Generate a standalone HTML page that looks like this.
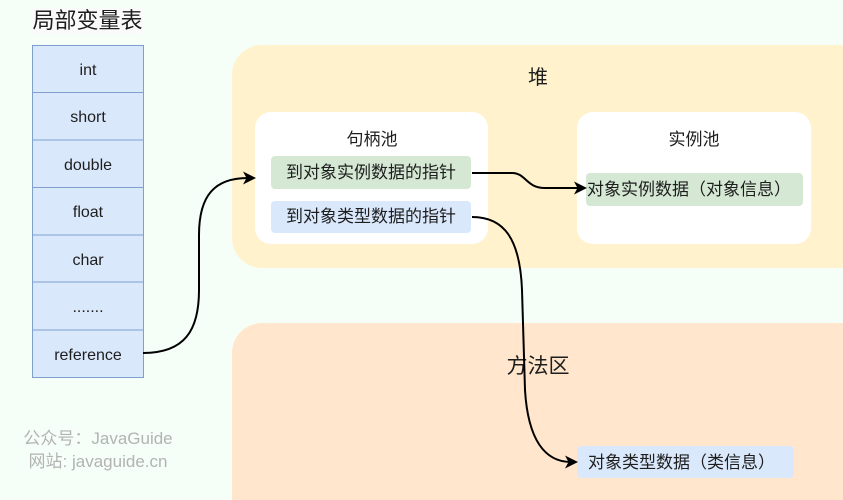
<!DOCTYPE html>
<html>
<head>
<meta charset="utf-8">
<style>
html,body{margin:0;padding:0;background:#f5fff8;width:843px;height:500px;overflow:hidden;}
svg{display:block;}
text{font-family:"Liberation Sans","Noto Sans CJK SC",sans-serif;fill:#1e1e1e;}
</style>
</head>
<body>
<svg width="843" height="500" viewBox="0 0 843 500" xmlns="http://www.w3.org/2000/svg">
  <rect x="0" y="0" width="843" height="500" fill="#f5fff8"/>

  <!-- title -->
  <rect x="31" y="8" width="112" height="26" fill="#f9faf9"/>
  <text x="87.5" y="28" font-size="22" text-anchor="middle">局部变量表</text>

  <!-- table -->
  <g fill="#dae8fc" stroke="#7f9fcf" stroke-width="1">
    <rect x="32.5" y="45.5" width="111" height="47"/>
    <rect x="32.5" y="92.5" width="111" height="47.5"/>
    <rect x="32.5" y="140" width="111" height="47.5"/>
    <rect x="32.5" y="187.5" width="111" height="47.5"/>
    <rect x="32.5" y="235" width="111" height="47"/>
    <rect x="32.5" y="282" width="111" height="48"/>
    <rect x="32.5" y="330" width="111" height="47.5"/>
  </g>
  <g font-size="16" text-anchor="middle">
    <text x="88" y="75">int</text>
    <text x="88" y="122">short</text>
    <text x="88" y="170">double</text>
    <text x="88" y="217">float</text>
    <text x="88" y="265">char</text>
    <text x="88" y="312">.......</text>
    <text x="88" y="360">reference</text>
  </g>

  <!-- watermark -->
  <text x="98" y="444" font-size="17" text-anchor="middle" style="fill:#b3b3b3">公众号：JavaGuide</text>
  <text x="98" y="467" font-size="17" text-anchor="middle" style="fill:#b3b3b3">网站: javaguide.cn</text>

  <!-- heap -->
  <rect x="232" y="45" width="640" height="223" rx="30" ry="30" fill="#fff2cc"/>
  <text x="538" y="84" font-size="20" text-anchor="middle">堆</text>

  <!-- handle pool -->
  <rect x="255" y="112" width="233" height="132" rx="16" ry="16" fill="#ffffff"/>
  <text x="372" y="145" font-size="17" text-anchor="middle">句柄池</text>
  <rect x="271" y="156" width="200" height="33" rx="4" fill="#d5e8d4"/>
  <text x="371" y="178" font-size="17" text-anchor="middle">到对象实例数据的指针</text>
  <rect x="271" y="201" width="200" height="32" rx="4" fill="#dae8fc"/>
  <text x="371" y="222" font-size="17" text-anchor="middle">到对象类型数据的指针</text>

  <!-- instance pool -->
  <rect x="577" y="112" width="234" height="132" rx="16" ry="16" fill="#ffffff"/>
  <text x="694" y="145" font-size="17" text-anchor="middle">实例池</text>
  <rect x="586" y="173" width="217" height="33" rx="4" fill="#d5e8d4"/>
  <text x="587" y="195" font-size="17">对象实例数据（对象信息）</text>

  <!-- method area -->
  <path d="M232,500 L232,353 A30,30 0 0 1 262,323 L843,323 L843,500 Z" fill="#ffe6cc"/>
  <text x="538" y="373" font-size="21" text-anchor="middle">方法区</text>
  <rect x="577" y="446" width="217" height="32" rx="4" fill="#dae8fc"/>
  <text x="588" y="468" font-size="17">对象类型数据（类信息）</text>

  <!-- connectors -->
  <g fill="none" stroke="#000" stroke-width="2">
    <path d="M143,353 C185,353 199,330 199,290 L199,235 C199,195 215,178 248,178"/>
    <path d="M472,173 L512,173 C526,173 526,188 545,188 L580,188"/>
    <path d="M472,217 C505,217 520,240 522,290 L525,390 C528,440 545,462 571,462"/>
  </g>
  <g fill="#000">
    <path d="M256,178 L243,171.5 L246.5,178 L243,184.5 Z"/>
    <path d="M587,188 L574,181.5 L577.5,188 L574,194.5 Z"/>
    <path d="M578,462 L565,455.5 L568.5,462 L565,468.5 Z"/>
  </g>
</svg>
</body>
</html>
